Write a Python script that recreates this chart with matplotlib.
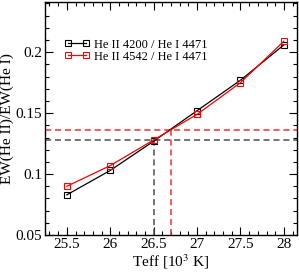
import matplotlib
matplotlib.use("Agg")
import matplotlib.pyplot as plt
from matplotlib.ticker import MultipleLocator

plt.rcParams["font.family"] = ["Liberation Serif", "DejaVu Serif"]
plt.rcParams["mathtext.fontset"] = "stix"

teff = [25.5, 26.0, 26.5, 27.0, 27.5, 28.0]
ratio_4200 = [0.083, 0.103, 0.127, 0.152, 0.177, 0.206]
ratio_4542 = [0.090, 0.107, 0.128, 0.149, 0.175, 0.209]

# measured ratios and derived temperatures
obs_4200, teff_4200 = 0.128, 26.5
obs_4542, teff_4542 = 0.136, 26.7

fig = plt.figure(figsize=(2.99, 2.73), dpi=100)
ax = fig.add_axes([0.151, 0.139, 0.842, 0.853])

xlo, xhi = 25.25, 28.15
ylo, yhi = 0.05, 0.241

ax.plot([xlo, xhi], [obs_4200, obs_4200], ls="--", color="#505050", lw=1.1, dashes=(4, 2.5))
ax.plot([teff_4200, teff_4200], [ylo, obs_4200], ls="--", color="#505050", lw=1.1, dashes=(4, 2.5))
ax.plot([xlo, xhi], [obs_4542, obs_4542], ls="--", color="#ee3333", lw=1.1, dashes=(4, 2.5))
ax.plot([teff_4542, teff_4542], [ylo, obs_4542], ls="--", color="#ee3333", lw=1.1, dashes=(4, 2.5))

ax.plot(teff, ratio_4200, color="black", lw=0.9, marker="s", ms=5,
        mfc="none", mec="black", mew=0.8, label="He II 4200 / He I 4471")
ax.plot(teff, ratio_4542, color="red", lw=0.9, marker="s", ms=5,
        mfc="none", mec="red", mew=0.8, label="He II 4542 / He I 4471")

ax.set_xlim(xlo, xhi)
ax.set_ylim(ylo, yhi)
ax.xaxis.set_minor_locator(MultipleLocator(0.1))
ax.yaxis.set_minor_locator(MultipleLocator(0.01))
ax.set_xticks(teff)
ax.set_xticklabels(["25.5", "26", "26.5", "27", "27.5", "28"])
ax.set_yticks([0.05, 0.1, 0.15, 0.2])
ax.set_yticklabels(["0.05", "0.1", "0.15", "0.2"])
ax.tick_params(which="both", direction="in", top=True, right=True, labelsize=11, width=0.8)
ax.tick_params(which="major", length=6, pad=2)
ax.tick_params(which="minor", length=3)
for s in ax.spines.values():
    s.set_linewidth(1.0)

ax.set_xlabel(r"Teff [10$^3$ K]", fontsize=11, labelpad=1)
ax.set_ylabel("EW(He II)/EW(He I)", fontsize=11, labelpad=1)

ax.legend(loc="upper left", bbox_to_anchor=(0.048, 0.875), frameon=False, fontsize=9,
          numpoints=2, markerscale=0.8, handlelength=2.0, handletextpad=0.35,
          borderpad=0.1, labelspacing=0.0)

fig.savefig("out.png", dpi=100)
